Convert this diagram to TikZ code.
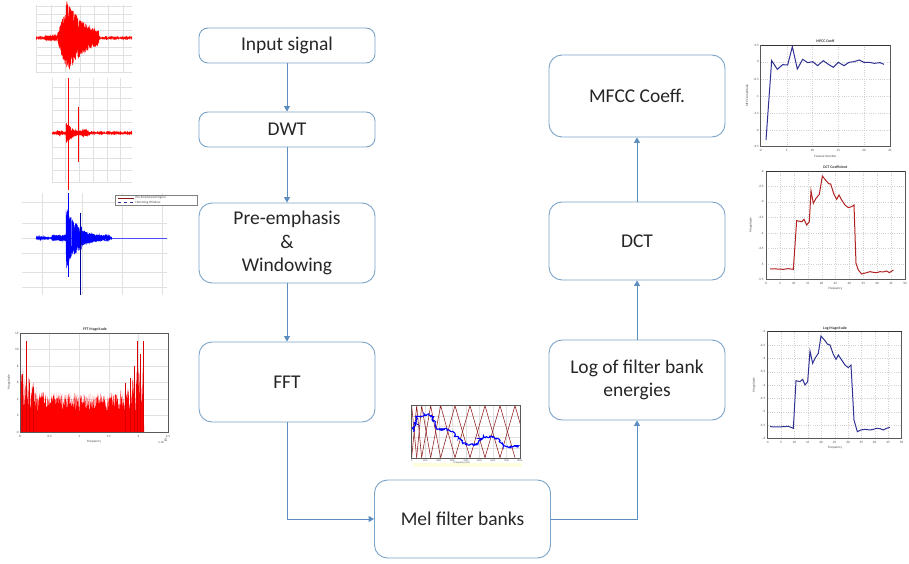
\documentclass[tikz,border=0pt]{standalone}
\usepackage{fontspec}
\setmainfont{Carlito}
\usetikzlibrary{arrows.meta,decorations.pathmorphing}
\definecolor{boxline}{HTML}{7AA3C8}
\definecolor{arrowc}{HTML}{5B8EBF}
\definecolor{curveblue}{HTML}{2E3192}
\definecolor{curvered}{HTML}{B22222}
\definecolor{melred}{HTML}{8B1A1A}
\begin{document}
\begin{tikzpicture}[x=1pt,y=-1pt,
  stage/.style={draw=boxline, line width=0.9pt, rounded corners=9pt, fill=white,
    minimum width=176pt, font=\fontsize{19.5}{23.5}\selectfont, align=center, text=black!85},
  flow/.style={draw=arrowc, line width=1pt, -{Triangle[width=6pt,length=5.5pt]}},
  gridl/.style={draw=black!12, line width=0.3pt},
  gridd/.style={draw=black!18, line width=0.25pt, dotted},
  frame/.style={draw=black!65, line width=0.4pt},
  tinyt/.style={font=\fontsize{3.3}{3.8}\selectfont, text=black!70, inner sep=0.3pt},
  titlet/.style={font=\fontsize{3.8}{4.2}\selectfont\bfseries, text=black!80, inner sep=0.3pt},
  declare function={
    sgn(\t)=(rnd<0.5)?-1:1;
    envA(\t)=(\t<45)?0.4:((\t<57)?2.5:((\t<66)?(3+28*(\t-57)/9):((\t<99)?(35*exp(-(\t-68)/20)):0.4)));
    envB(\t)=(\t<57)?0.4:((\t<63)?2:((\t<66)?1:((\t<92)?(10*exp(-(\t-67)/7)+3*exp(-((\t-85)/4)^2)):0.4)));
    envC(\t)=(\t<37)?0.3:((\t<45)?1.5:((\t<52)?0.3:((\t<66)?3:((\t<82)?(8+22*exp(-(\t-67)/8)):((\t<110)?(2+6*exp(-(\t-82)/12)):0.3)))));
  }]
\useasboundingbox (0,0) rectangle (909,564);
\pgfmathsetseed{11}

% ---------- waveform 1 (input signal) ----------
\foreach \gx in {36,51,65,80,94,108,123} \draw[gridl] (\gx,5)--(\gx,72);
\foreach \gy in {6,14,22,30,38,47,55,63,72} \draw[gridl] (36,\gy)--(132,\gy);
\draw[red, line width=0.4pt] plot[domain=36:132, samples=1400]
  (\x,{38+envA(\x)*(0.35+0.65*rnd)*sgn(\x)});

% ---------- waveform 2 (DWT output) ----------
\foreach \gx in {52,65,79,93,107,120} \draw[gridl] (\gx,78)--(\gx,183);
\foreach \gy in {87,98,110,122,133,147,158,170,182} \draw[gridl] (52,\gy)--(132,\gy);
\draw[red, line width=0.4pt] plot[domain=52:132, samples=1100]
  (\x,{133+envB(\x)*(0.35+0.65*rnd)*sgn(\x)});
\draw[red, line width=0.6pt] (68,78)--(68,190);
\draw[red, line width=0.6pt] (78,107)--(78,162);

% ---------- waveform 3 (pre-emphasised, windowed) ----------
\foreach \gx in {42,82,122,162} \draw[gridl] (\gx,193)--(\gx,295);
\foreach \gy in {202,223,238,253,272,287} \draw[gridl] (22,\gy)--(167,\gy);
\draw[blue!70, line width=0.3pt] (36,238)--(167,238);
\draw[blue, line width=0.4pt] plot[domain=36:112, samples=1200]
  (\x,{238+envC(\x)*(0.35+0.65*rnd)*sgn(\x)});
\draw[blue, line width=0.7pt] (68,193)--(68,277);
\draw[blue!60!black, line width=0.7pt] (80,213)--(80,295);
\draw[black!50, line width=0.3pt, fill=white] (115,195) rectangle (197,205);
\draw[melred, line width=0.4pt] (118,198)--(134,198);
\node[tinyt, anchor=west] (lg1) at (135,198) {Pre-Emphasized Signal};
\draw[curveblue, line width=0.4pt, dashed] (118,202.3)--(134,202.3);
\node[tinyt, anchor=west] (lg2) at (135,202.3) {Hamming Window};

% ---------- FFT magnitude ----------
\foreach \gx in {49.6,79.2,108.8,138.4} \draw[gridl] (\gx,333)--(\gx,432);
\foreach \gy in {349.5,366,382.5,399,415.5} \draw[gridl] (20,\gy)--(168,\gy);
\fill[red] (20,432) -- plot[domain=20:144, samples=600]
  (\x,{432-8.25*(2.2+rnd*(2.6+3*exp(-((\x-20)/14)^2)+3.5*exp(-((\x-144)/16)^2)))}) -- (144,432) -- cycle;
\foreach \px/\pv in {26/11,22.5/7,29/6,33/5.5,125/6,130/6.5,134/8,137/11,140/9.5,143.5/11}
  \draw[red!85!black, line width=0.45pt] (\px,432)--(\px,{432-8.25*\pv});
\draw[frame] (20,333) rectangle (168,432);
\node[titlet] (fftt) at (95,329) {FFT Magnitude};
\foreach \v/\xx in {0/20,0.5/49.6,1/79.2,1.5/108.8,2/138.4,2.5/168}
  \node[tinyt] at (\xx,436.5) {\v};
\foreach \v in {0,2,4,6,8,10,12}
  \node[tinyt, anchor=east] at (19,{432-8.25*\v}) {\v};
\node[tinyt] (fftx) at (94,442) {Frequency};
\node[tinyt] (ffte) at (163,441) {x 10$^4$};
\node[tinyt, rotate=90] (ffty) at (9,382) {Magnitude};

% ---------- Mel filter bank response ----------
\begin{scope}[xshift=400pt, yshift=-395pt, x=0.3333pt, y=-0.3333pt]
  \fill[yellow!12] (40,205) rectangle (365,215);
  \foreach \gx in {75.6,116.2,156.9,197.5,238.1,278.7,319.4} \draw[gridl] (\gx,30)--(\gx,190);
  \foreach \gy in {62,94,126,158} \draw[gridl] (35,\gy)--(360,\gy);
  \begin{scope}
    \clip (35,30) rectangle (360,190);
    \foreach \a/\b/\c in {20/35/50,35/50/65,50/65/92,65/92/122,92/122/165,122/165/210,
        165/210/255,210/255/300,255/300/345,300/345/390}
      \draw[melred, line width=0.55pt] (\a,188)--(\b,32)--(\c,188);
  \end{scope}
  \draw[blue, line width=1.1pt, decorate, decoration={random steps, segment length=1pt, amplitude=1.3pt}]
    (40,110)--(50,65)--(65,65)--(75,60)--(95,60)--(110,100)--(120,105)--(140,100)--(155,110)
    --(175,130)--(190,145)--(205,150)--(225,150)--(250,125)--(270,125)--(290,130)--(305,145)
    --(320,155)--(340,155)--(355,152);
  \draw[frame] (35,30) rectangle (360,190);
  \foreach \v [count=\k from 0] in {0,1000,2000,3000,4000,5000,6000,7000,8000}
    \node[tinyt, font=\fontsize{2.4}{2.8}\selectfont] at ({35+40.6*\k},196) {\v};
  \node[tinyt, font=\fontsize{2.6}{3}\selectfont] (melx) at (185,202) {Frequency (Hz)};
\end{scope}

% ---------- MFCC coefficients ----------
\begin{scope}[xshift=740pt, yshift=-30pt, x=0.3333pt, y=-0.3333pt]
  \foreach \gx in {140,217,295,372} \draw[gridd] (\gx,45)--(\gx,350);
  \foreach \gy in {95,148,198,250,300} \draw[gridd] (62,\gy)--(450,\gy);
  \draw[curveblue, line width=1pt] plot coordinates {(78,330) (95,92) (112,118) (128,104)
    (143,105) (157,50) (172,117) (188,88) (203,98) (218,95) (233,107) (250,92) (265,103)
    (280,112) (295,97) (312,107) (327,97) (342,95) (358,90) (372,97) (388,97) (403,100)
    (420,98) (432,103)};
  \draw[frame] (62,45) rectangle (450,350);
  \draw[black!80, line width=0.6pt] (62,45)--(450,45);
  \node[titlet] (mfcct) at (256,35) {MFCC Coeff};
  \foreach \v/\yy in {0.5/45,0/95,-0.5/148,-1/198,-1.5/250,-2/300,-2.5/350}
    \node[tinyt, anchor=east] at (58,\yy) {\v};
  \foreach \v/\xx in {0/62,5/140,10/217,15/295,20/372,25/450}
    \node[tinyt] at (\xx,362) {\v};
  \node[tinyt] (mfccx) at (256,378) {Feature Number};
  \node[tinyt, rotate=90] (mfccy) at (22,197) {MFCC Amplitude};
\end{scope}

% ---------- DCT coefficients ----------
\begin{scope}[xshift=740pt, yshift=-160pt, x=0.3333pt, y=-0.3333pt]
  \foreach \gx in {120,161,203,245,286,328,370,411,453} \draw[gridd] (\gx,33)--(\gx,357);
  \foreach \gy in {78,125,172,220,265,312} \draw[gridd] (78,\gy)--(495,\gy);
  \draw[curvered, line width=1pt] plot coordinates {(90,327) (110,327) (130,328) (145,326)
    (160,328) (170,182) (185,185) (192,178) (200,195) (208,185) (213,92) (220,130) (228,115)
    (238,103) (247,48) (258,62) (267,72) (272,72) (282,103) (290,118) (297,105) (305,120)
    (315,135) (325,143) (335,140) (342,135) (348,310) (355,330) (365,342) (380,338) (390,335)
    (400,337) (410,338) (420,335) (430,336) (440,333) (448,338) (460,330)};
  \draw[frame] (78,33) rectangle (495,357);
  \draw[black!80, line width=0.6pt] (78,33)--(495,33);
  \node[titlet] (dctt) at (286,23) {DCT Coefficient};
  \foreach \v/\yy in {-2/33,-2.5/78,-3/125,-3.5/172,-4/220,-4.5/265,-5/312,-5.5/357}
    \node[tinyt, anchor=east] at (72,\yy) {\v};
  \foreach \v/\xx in {0/78,5/120,10/161,15/203,20/245,25/286,30/328,35/370,40/411,45/453,50/495}
    \node[tinyt] at (\xx,370) {\v};
  \node[tinyt] (dctx) at (286,386) {Frequency};
  \node[tinyt, rotate=90] (dcty) at (32,195) {Magnitude};
\end{scope}

% ---------- log filter bank energies ----------
\begin{scope}[xshift=740pt, yshift=-320pt, x=0.3333pt, y=-0.3333pt]
  \foreach \gx in {123,163,203,243,284,324,364,404,444} \draw[gridd] (\gx,35)--(\gx,355);
  \foreach \gy in {75,115,155,195,235,275,315} \draw[gridd] (83,\gy)--(485,\gy);
  \draw[curveblue, line width=1pt] plot coordinates {(90,320) (110,321) (130,320) (145,319)
    (160,325) (168,182) (180,185) (188,178) (195,195) (203,185) (210,93) (218,130) (225,115)
    (235,100) (243,48) (255,62) (262,72) (270,75) (280,103) (288,118) (295,105) (305,120)
    (315,135) (325,143) (333,135) (342,300) (352,335) (362,330) (375,328) (390,330) (400,328)
    (410,325) (420,326) (430,330) (440,325) (450,322)};
  \draw[frame] (83,35) rectangle (485,355);
  \draw[black!80, line width=0.6pt] (83,35)--(485,35);
  \node[titlet] (logt) at (285,25) {Log Magnitude};
  \foreach \v/\yy in {-2/35,-2.5/75,-3/115,-3.5/155,-4/195,-4.5/235,-5/275,-5.5/315,-6/355}
    \node[tinyt, anchor=east] at (77,\yy) {\v};
  \foreach \v/\xx in {0/83,5/123,10/163,15/203,20/243,25/284,30/324,35/364,40/404,45/444,50/485}
    \node[tinyt] at (\xx,367) {\v};
  \node[tinyt] (logx) at (285,383) {Frequency};
  \node[tinyt, rotate=90] (logy) at (42,195) {Magnitude};
\end{scope}

% ---------- processing stages ----------
\node[stage, minimum height=35pt] (inp) at (287,45.5) {Input signal};
\node[stage, minimum height=35pt] (dwt) at (287,129.5) {DWT};
\node[stage, minimum height=80pt, rounded corners=13pt] (pre) at (287,243) {Pre-emphasis\\\&\\Windowing};
\node[stage, minimum height=80pt, rounded corners=13pt] (fft) at (287,382) {FFT};
\node[stage, minimum height=78pt, rounded corners=13pt] (mel) at (462.5,519) {Mel filter banks};
\node[stage, minimum height=82pt, rounded corners=13pt] (mfcc) at (637,96) {MFCC Coeff.};
\node[stage, minimum height=78pt, rounded corners=13pt] (dct) at (637,241) {DCT};
\node[stage, minimum height=80pt, rounded corners=13pt] (log) at (637,380) {Log of filter bank\\energies};

% ---------- connectors ----------
\draw[flow] (inp) -- (dwt);
\draw[flow] (dwt) -- (pre);
\draw[flow] (pre) -- (fft);
\draw[flow] (fft.south) |- (mel.west);
\draw[flow] (mel.east) -| (log.south);
\draw[flow] (log) -- (dct);
\draw[flow] (dct) -- (mfcc);
\end{tikzpicture}
\end{document}
